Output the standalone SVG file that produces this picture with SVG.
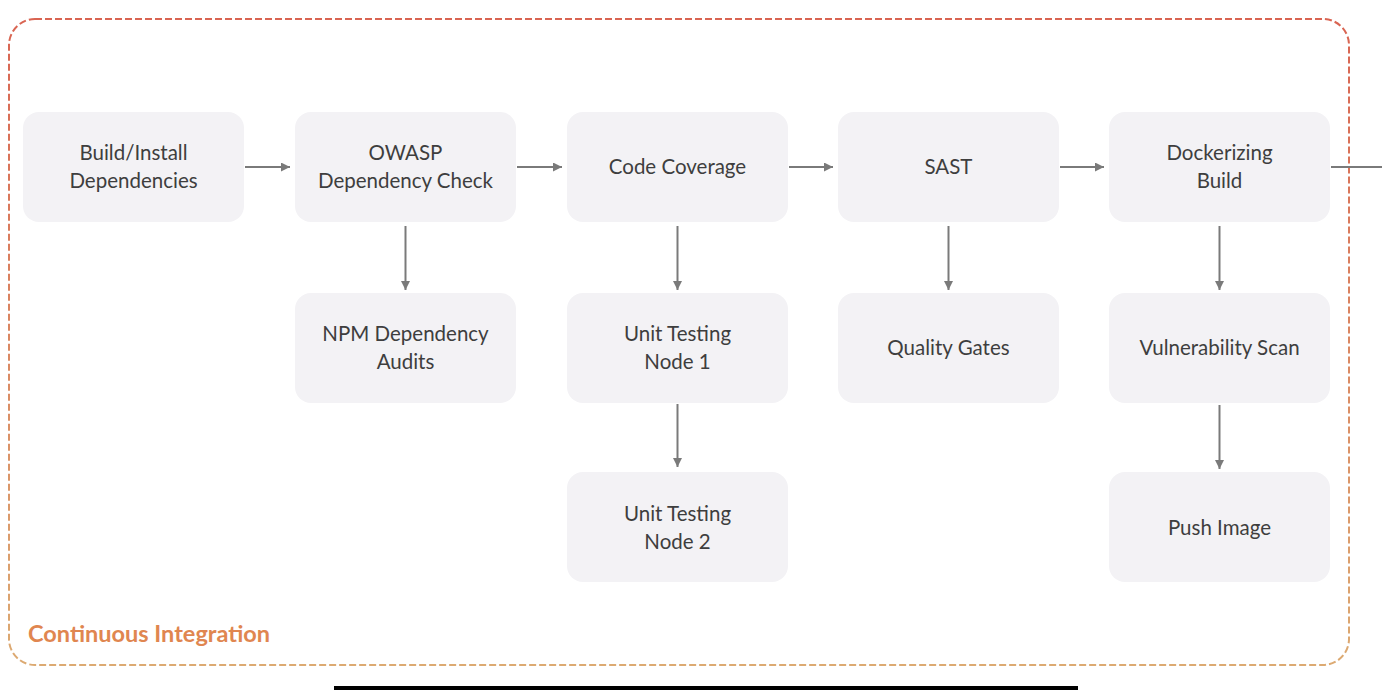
<svg xmlns="http://www.w3.org/2000/svg" width="1382" height="690" viewBox="0 0 1382 690">
<defs>
<linearGradient id="bg" x1="0" y1="0" x2="0" y2="1">
<stop offset="0" stop-color="#d96452"/>
<stop offset="1" stop-color="#dcaa72"/>
</linearGradient>
<marker id="ah" viewBox="0 0 10 10" refX="10" refY="5" markerWidth="9" markerHeight="9" markerUnits="userSpaceOnUse" orient="auto">
<path d="M0,0 L10,5 L0,10 z" fill="#7a7a7a"/>
</marker>
</defs>
<style>
.n rect{fill:#f3f2f5}
.n text{font-family:Lato,"Open Sans",sans-serif;font-size:20.5px;fill:#3e3e3e;text-anchor:middle}
.c line{stroke:#7a7a7a;stroke-width:2}
</style>
<rect width="1382" height="690" fill="#ffffff"/>
<g id="frame">
<rect x="9" y="19" width="1340" height="646" rx="26" fill="none" stroke="url(#bg)" stroke-width="2" stroke-dasharray="7 3"/>
<text x="28" y="642" font-family="Lato,'Open Sans',sans-serif" font-size="23.5" font-weight="bold" fill="#e08650">Continuous Integration</text>
</g>
<g id="n1" class="n"><rect x="23" y="112" width="221" height="110" rx="16"/><text x="133.5" y="160">Build/Install</text><text x="133.5" y="188">Dependencies</text></g>
<g id="n2" class="n"><rect x="295" y="112" width="221" height="110" rx="16"/><text x="405.5" y="160">OWASP</text><text x="405.5" y="188">Dependency Check</text></g>
<g id="n3" class="n"><rect x="567" y="112" width="221" height="110" rx="16"/><text x="677.5" y="174">Code Coverage</text></g>
<g id="n4" class="n"><rect x="838" y="112" width="221" height="110" rx="16"/><text x="948.5" y="174">SAST</text></g>
<g id="n5" class="n"><rect x="1109" y="112" width="221" height="110" rx="16"/><text x="1219.5" y="160">Dockerizing</text><text x="1219.5" y="188">Build</text></g>
<g id="n6" class="n"><rect x="295" y="293" width="221" height="110" rx="16"/><text x="405.5" y="341">NPM Dependency</text><text x="405.5" y="369">Audits</text></g>
<g id="n7" class="n"><rect x="567" y="293" width="221" height="110" rx="16"/><text x="677.5" y="341">Unit Testing</text><text x="677.5" y="369">Node 1</text></g>
<g id="n8" class="n"><rect x="838" y="293" width="221" height="110" rx="16"/><text x="948.5" y="355">Quality Gates</text></g>
<g id="n9" class="n"><rect x="1109" y="293" width="221" height="110" rx="16"/><text x="1219.5" y="355">Vulnerability Scan</text></g>
<g id="n10" class="n"><rect x="567" y="472" width="221" height="110" rx="16"/><text x="677.5" y="521">Unit Testing</text><text x="677.5" y="549">Node 2</text></g>
<g id="n11" class="n"><rect x="1109" y="472" width="221" height="110" rx="16"/><text x="1219.5" y="535">Push Image</text></g>
<g id="connectors" class="c">
<line x1="245" y1="167" x2="290" y2="167" marker-end="url(#ah)"/>
<line x1="517" y1="167" x2="562" y2="167" marker-end="url(#ah)"/>
<line x1="789" y1="167" x2="833" y2="167" marker-end="url(#ah)"/>
<line x1="1060" y1="167" x2="1104" y2="167" marker-end="url(#ah)"/>
<line x1="1331" y1="167" x2="1382" y2="167"/>
<line x1="405.5" y1="226" x2="405.5" y2="290" marker-end="url(#ah)"/>
<line x1="677.5" y1="226" x2="677.5" y2="290" marker-end="url(#ah)"/>
<line x1="677.5" y1="404" x2="677.5" y2="467" marker-end="url(#ah)"/>
<line x1="948.5" y1="226" x2="948.5" y2="290" marker-end="url(#ah)"/>
<line x1="1219.5" y1="226" x2="1219.5" y2="290" marker-end="url(#ah)"/>
<line x1="1219.5" y1="405" x2="1219.5" y2="469" marker-end="url(#ah)"/>
</g>
<rect x="334" y="686" width="744" height="4" fill="#000000"/>
</svg>
